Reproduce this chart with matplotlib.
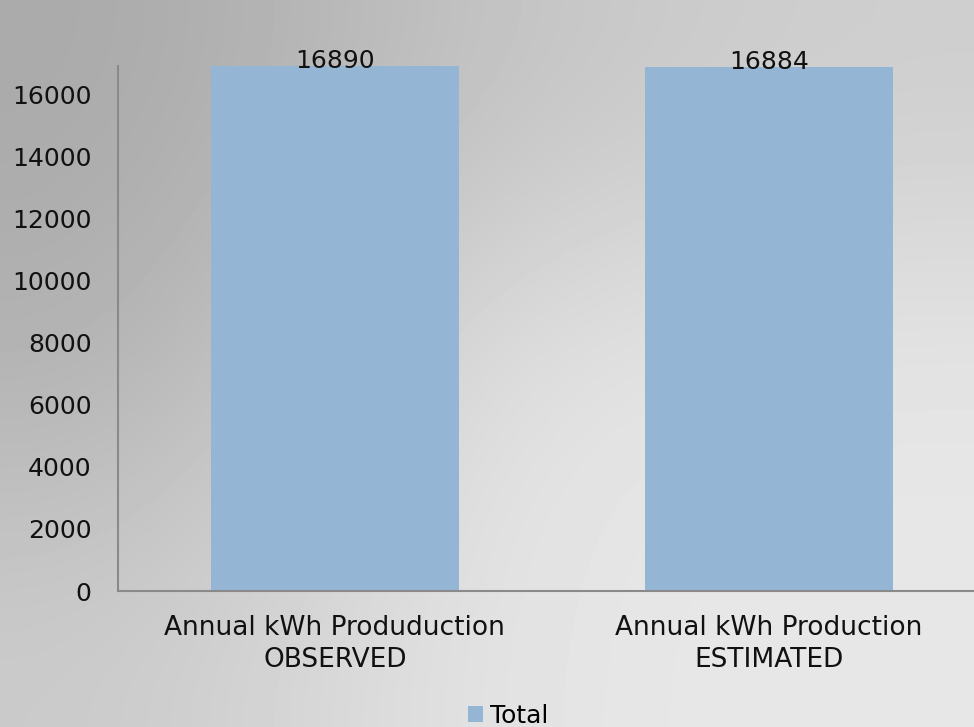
"""Annual kWh production: observed vs estimated."""

import matplotlib

matplotlib.use("Agg")

import matplotlib.pyplot as plt
import numpy as np

categories = ["Annual kWh Produduction\nOBSERVED", "Annual kWh Production\nESTIMATED"]
totals = [16890, 16884]
y_ticks = [0, 2000, 4000, 6000, 8000, 10000, 12000, 14000, 16000]
series_name = "Total"

BAR_COLOR = "#95b5d5"
SPINE_COLOR = "#8a8a8a"
FONT_SIZE = 18

# rough grey shading of the slide background (3x3 grid, smoothed)
background = np.array([
    [169, 196, 206],
    [176, 228, 230],
    [202, 230, 231],
]) / 255.0

fig = plt.figure(figsize=(9.74, 7.27), dpi=100)

bg = fig.add_axes([0, 0, 1, 1], zorder=-1)
bg.imshow(background, cmap="gray", vmin=0, vmax=1, interpolation="bicubic",
          aspect="auto", extent=[0, 1, 0, 1])
bg.set_axis_off()

ax = fig.add_axes([0.1211, 0.187, 0.891, 0.722])
ax.set_facecolor("none")

x = np.arange(len(categories))
bars = ax.bar(x, totals, width=0.573, color=BAR_COLOR, label=series_name)

for rect, val in zip(bars, totals):
    ax.annotate(f"{val}", (rect.get_x() + rect.get_width() / 2, val),
                xytext=(0, -2), textcoords="offset pixels",
                ha="center", va="baseline", fontsize=FONT_SIZE, color="#111111")

ax.set_xlim(-0.5, 1.5)
ax.set_ylim(0, 16900)
ax.set_xticks(x)
ax.set_xticklabels(categories, fontsize=19, linespacing=1.3)
ax.set_yticks(y_ticks)
ax.set_yticklabels([str(v) for v in y_ticks], fontsize=FONT_SIZE)
ax.tick_params(axis="y", length=0, pad=19, colors="#111111")
ax.tick_params(axis="x", length=0, pad=17, colors="#111111")

for side in ("top", "right"):
    ax.spines[side].set_visible(False)
for side in ("left", "bottom"):
    ax.spines[side].set_color(SPINE_COLOR)
    ax.spines[side].set_linewidth(1.5)

fig.legend(loc="upper center", bbox_to_anchor=(508 / 974, 1 - 704 / 727),
           frameon=False, fontsize=FONT_SIZE, handlelength=0.6,
           handleheight=0.6, handletextpad=0.3, borderpad=0, borderaxespad=0)

fig.savefig("out.png", dpi=100)
plt.close(fig)
